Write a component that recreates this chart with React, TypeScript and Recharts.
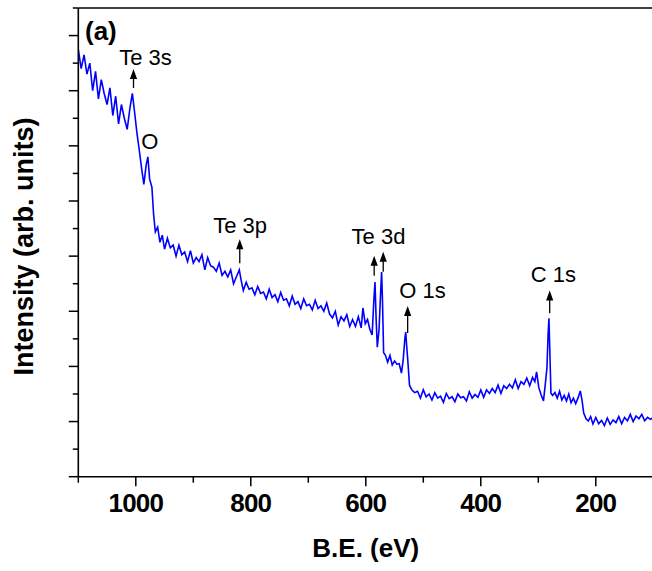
import React from 'react';
import { LineChart, Line, XAxis, YAxis, ReferenceLine, ReferenceDot } from 'recharts';

// binding energy (eV), read left to right off the survey scan
const bindingEnergy = [
  1100, 1095, 1090, 1085, 1080, 1075, 1070, 1065, 1060, 1055, 1050, 1045, 1040, 1035, 1030, 1025, 1020, 1015, 1010, 1006,
  1002, 998, 994, 990, 986, 982, 979, 976, 972, 969, 966, 962, 958, 954, 950, 945, 940, 935, 930, 925,
  920, 915, 910, 905, 900, 895, 890, 885, 880, 875, 870, 865, 860, 855, 850, 845, 840, 835, 830, 825,
  820, 817, 813, 808, 803, 798, 793, 788, 783, 778, 773, 768, 763, 758, 753, 748, 743, 738, 733, 728,
  723, 718, 713, 708, 703, 698, 693, 688, 683, 678, 673, 668, 663, 658, 653, 648, 643, 638, 633, 628,
  623, 618, 613, 608, 605, 601, 597, 593, 589, 586, 584, 582, 580, 577, 574, 572.5, 571, 569, 566, 562,
  558, 554, 550, 546, 542, 538, 535, 532, 530.5, 529, 527, 524, 520, 515, 510, 505, 500, 495, 490, 485,
  480, 475, 470, 465, 460, 455, 450, 445, 440, 435, 430, 425, 420, 415, 410, 405, 400, 395, 390, 385,
  380, 375, 370, 365, 360, 355, 350, 345, 340, 335, 330, 325, 320, 315, 310, 306, 303, 299, 295, 291,
  288, 285, 283, 281.5, 280, 278, 275, 271, 267, 263, 259, 255, 251, 247, 243, 239, 235, 231, 227, 224,
  221, 217, 213, 209, 205, 200, 195, 190, 185, 180, 175, 170, 165, 160, 155, 150, 145, 140, 135, 130,
  125, 120, 115, 110, 105, 100,
];

// intensity (arb. units)
const intensity = [
  155, 148, 153, 146, 150, 140, 147, 137, 144, 139, 135, 141, 131, 138, 128, 135, 130, 126, 134, 139,
  132, 124.6, 118.5, 112, 106, 113, 116, 108, 105, 95, 88.8, 90.5, 85, 87.6, 82.5, 86.5, 83, 84, 80, 84,
  80.5, 81.5, 78, 82, 77.5, 79.5, 78, 80.5, 75, 79.5, 76.5, 76, 74.5, 77.5, 73, 74.5, 72.5, 75, 70, 72.5,
  75, 71.5, 67.5, 70.5, 68, 68.5, 66, 69, 66.5, 67, 64.5, 68, 65, 66, 63.5, 66.8, 64, 64.5, 62, 65.5,
  62.5, 63.5, 61, 64.5, 62, 62.5, 60.5, 64, 61, 62, 60, 63, 59, 57.6, 60, 55, 58, 56.5, 58.8, 54.5,
  57, 54.5, 58, 54, 61.2, 55.5, 57, 53.5, 51.4, 64, 70.6, 57, 47, 53.2, 67.7, 74.2, 64, 45, 44.1, 41.5,
  44, 40.5, 42, 40.8, 41, 37.6, 42.3, 50.3, 52.5, 47.7, 42.3, 33.2, 31.5, 30.5, 31, 28.5, 31.5, 29, 30, 27.8,
  30.5, 28.5, 29.2, 27, 30.2, 28.3, 29, 27.2, 30, 28.6, 29, 27.5, 30.8, 28.5, 29.8, 28.8, 31.5, 28.8, 31.5, 30.2,
  32, 30.5, 33.2, 30.2, 33, 32, 33.5, 32.2, 35.2, 32, 34.5, 33.5, 35.8, 33, 36, 34.5, 38, 32.2, 29.6, 27.5,
  33.2, 39.4, 51.4, 57.5, 46, 30.3, 29.5, 30.5, 28.5, 31, 27.8, 29.5, 27.5, 30, 26.8, 28.5, 26.5, 28.5, 31.1, 27.8,
  23.1, 21, 20.2, 21.8, 19.1, 21.5, 19.2, 20.4, 18.5, 21.3, 19, 20.6, 19.6, 21.8, 19.2, 21.5, 20.3, 22.6, 20, 22,
  21, 22.6, 20.3, 21.5, 20.8, 21.6,
];

const xTicks = [1100, 1000, 900, 800, 700, 600, 500, 400, 300, 200, 100];
const yTicks = [0, 10, 20, 30, 40, 50, 60, 70, 80, 90, 100, 110, 120, 130, 140, 150, 160, 170];

// peak labels: name, energy of the arrow, intensity at the arrow tip
const peakNames = ['Te 3s', 'O', 'Te 3p', 'Te 3d', '', 'O 1s', 'C 1s'];
const peakEnergies = [1004, 990.6, 819.2, 585.4, 569.7, 527.2, 280.2];
const peakTips = [147.9, 118.8, 86.1, 80.1, 81.6, 61.9, 67.5];

// drawing offsets for each label (px): text dx, text dy, arrow length
const peakLayout = [
  { dx: -14.3, dy: -4, arrow: 19 },
  { dx: 0, dy: 0, arrow: 0 },
  { dx: -26.6, dy: -6.6, arrow: 24 },
  { dx: -22.6, dy: -12, arrow: 20 },
  { dx: 0, dy: 0, arrow: 20 },
  { dx: -8.4, dy: -7.7, arrow: 27 },
  { dx: -19, dy: -8.4, arrow: 22.6 },
];

const data = bindingEnergy.map((be, i) => ({ be, counts: intensity[i] }));

const FONT = '"Liberation Sans", Arial, sans-serif';

const XTick = (props: any) => {
  const { x, y, payload } = props;
  const major = payload.value % 200 === 0;
  return (
    <g>
      <line x1={x} x2={x} y1={y} y2={y + (major ? 9.5 : 6)} stroke="#000" strokeWidth={1.5} />
      {major && (
        <text x={x} y={y + 35} textAnchor="middle" fontFamily={FONT} fontWeight="bold" fontSize={26} letterSpacing={-0.8} fill="#000">
          {payload.value}
        </text>
      )}
    </g>
  );
};

const YTick = (props: any) => {
  const { x, y, payload } = props;
  const major = payload.value % 20 === 0;
  return <line x1={x} x2={x - (major ? 9.5 : 5.5)} y1={y} y2={y} stroke="#000" strokeWidth={1.5} />;
};

const PeakMark = (props: any) => {
  const { cx, cy, name, layout } = props;
  if (cx == null || cy == null) return null;
  return (
    <g>
      {layout.arrow > 0 && (
        <g>
          <line x1={cx} x2={cx} y1={cy + 6} y2={cy + layout.arrow} stroke="#000" strokeWidth={1.3} />
          <path d={`M${cx},${cy} L${cx - 3.6},${cy + 10} L${cx + 3.6},${cy + 10} Z`} fill="#000" />
        </g>
      )}
      {name && (
        <text x={cx + layout.dx} y={cy + layout.dy} fontFamily={FONT} fontSize={22} fill="#000">
          {name}
        </text>
      )}
    </g>
  );
};

const App: React.FC = () => {
  return (
    <div style={{ position: 'absolute', left: 0, top: 0, width: 652, height: 571, overflow: 'hidden', background: '#fff' }}>
      <LineChart width={660} height={571} data={data} margin={{ top: 8, right: 6.7, bottom: 0, left: 0 }}>
        <XAxis
          dataKey="be"
          type="number"
          domain={[100, 1100]}
          reversed
          allowDataOverflow
          ticks={xTicks}
          interval={0}
          height={94.3}
          tickSize={0}
          tickMargin={0}
          tickLine={false}
          axisLine={{ stroke: '#000', strokeWidth: 1.6 }}
          tick={(p: any) => <XTick {...p} />}
          label={(p: any) => {
            const vb = p.viewBox || { x: 78.3, y: 476.7, width: 575 };
            return (
              <text x={vb.x + vb.width / 2} y={vb.y + 80.3} textAnchor="middle" fontFamily={FONT} fontWeight="bold" fontSize={26} fill="#000">
                B.E. (eV)
              </text>
            );
          }}
        />
        <YAxis
          type="number"
          domain={[0, 170]}
          allowDataOverflow
          ticks={yTicks}
          interval={0}
          width={78.3}
          tickSize={0}
          tickMargin={0}
          tickLine={false}
          axisLine={{ stroke: '#000', strokeWidth: 1.6 }}
          tick={(p: any) => <YTick {...p} />}
          label={(p: any) => {
            const vb = p.viewBox || { x: 0, y: 8 };
            const lx = vb.x + 33;
            const ly = vb.y + 238.5;
            return (
              <text x={lx} y={ly} transform={`rotate(-90, ${lx}, ${ly})`} textAnchor="middle" fontFamily={FONT} fontWeight="bold" fontSize={27} fill="#000">
                Intensity (arb. units)
              </text>
            );
          }}
        />
        <ReferenceLine
          y={170}
          stroke="#000"
          strokeWidth={1.6}
          label={(p: any) => {
            const vb = p.viewBox || { x: 78.3, y: 8 };
            return (
              <text x={vb.x + 6.7} y={vb.y + 32} fontFamily={FONT} fontWeight="bold" fontSize={26} fill="#000">
                (a)
              </text>
            );
          }}
        />
        <Line
          type="linear"
          dataKey="counts"
          stroke="#0000ff"
          strokeWidth={1.6}
          dot={false}
          activeDot={false}
          isAnimationActive={false}
        />
        {peakEnergies.map((be, i) => (
          <ReferenceDot
            key={i}
            x={be}
            y={peakTips[i]}
            r={0}
            ifOverflow="visible"
            shape={(p: any) => <PeakMark {...p} name={peakNames[i]} layout={peakLayout[i]} />}
          />
        ))}
      </LineChart>
    </div>
  );
};

export default App;
